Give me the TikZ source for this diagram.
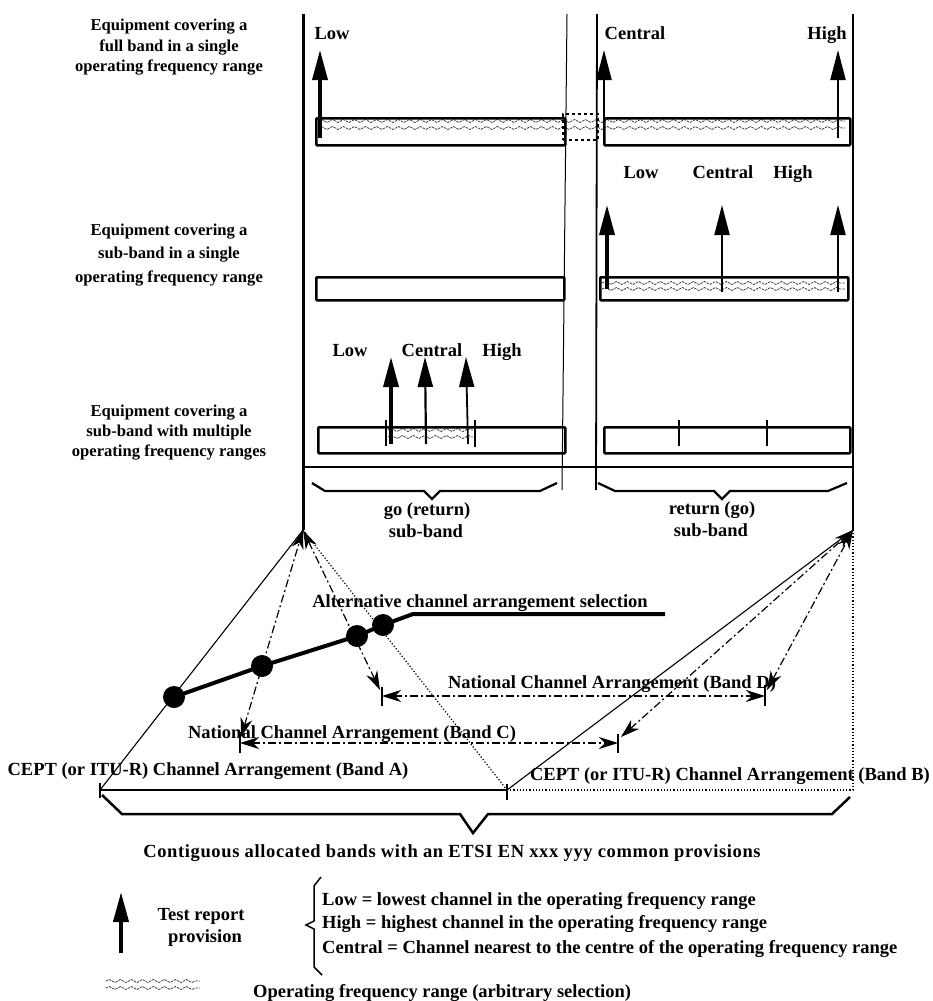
\documentclass[tikz,border=0pt]{standalone}
\usepackage{fontspec}
\setmainfont{Liberation Serif}
\usetikzlibrary{arrows.meta,decorations.pathmorphing}
\begin{document}
\begin{tikzpicture}[x=1pt,y=-1pt,
  lbl/.style={font=\bfseries\fontsize{16.6}{20}\selectfont, inner sep=0pt, anchor=base},
  sml/.style={font=\bfseries\fontsize{18.5}{22}\selectfont, inner sep=0pt, anchor=base},
  bar/.style={draw, line width=2.5pt, rounded corners=1pt},
  wave/.style={decorate, decoration={snake, amplitude=1.5pt, segment length=11pt}, draw=black!75, dash pattern=on 2.5pt off 1pt, line width=0.8pt},
  tarr/.style={-{Triangle[length=30pt,width=15pt]}},
  dashdot/.style={dash pattern=on 8pt off 3pt on 2pt off 3pt, line width=1.2pt},
  barb/.style={{Stealth[length=19pt,width=12pt,inset=6pt]}-{Stealth[length=19pt,width=12pt,inset=6pt]}},
  dot/.style={circle, fill=black, minimum size=22pt, inner sep=0pt},
  brace/.style={line width=2.2pt, line join=miter},
]
\useasboundingbox (0,0) rectangle (932,1001);

% ---------- wavy fills (operating frequency ranges)
\draw[wave] (318,121) -- (845,121);
\draw[wave] (318,128) -- (845,128);
\draw[wave] (602,283) -- (845,283);
\draw[wave] (602,289) -- (845,289);
\draw[wave] (388,430) -- (473,430);
\draw[wave] (388,437) -- (473,437);
\draw[wave] (106,981) -- (200,981);
\draw[wave] (106,988) -- (200,988);

% ---------- frame lines
\coordinate (LT) at (303,14);  \coordinate (LA) at (303,530);
\coordinate (RT) at (853,14);  \coordinate (RA) at (853,530);
\coordinate (M1T) at (567,14); \coordinate (M1B) at (562,490);
\coordinate (M2T) at (597,14); \coordinate (M2B) at (596,490);
\coordinate (HL) at (303,467); \coordinate (HR) at (853,467);
\draw[line width=3pt] (LT) -- (LA);
\draw[line width=2.5pt] (RT) -- (RA);
\draw[line width=1pt] (M1T) -- (M1B);
\draw[line width=1.8pt] (M2T) -- (M2B);
\draw[line width=1.5pt] (HL) -- (HR);

% ---------- row 1
\node[bar, minimum width=249pt, minimum height=27pt, anchor=north west] (r1a) at (315,117) {};
\node[bar, minimum width=246pt, minimum height=27pt, anchor=north west] (r1b) at (603,117) {};
\node[draw, dashed, line width=1.5pt, minimum width=35pt, minimum height=26pt, anchor=north west] (r1c) at (562,113) {};
\coordinate (a1l) at (320,138); \coordinate (a1lt) at (320,50);
\coordinate (a1c) at (604,141); \coordinate (a1ct) at (604,50);
\coordinate (a1h) at (838,138); \coordinate (a1ht) at (838,50);
\draw[tarr, line width=3.5pt] (a1l) -- (a1lt);
\draw[tarr, line width=2.2pt] (a1c) -- (a1ct);
\draw[tarr, line width=2.2pt] (a1h) -- (a1ht);
\node[sml] (t1l) at (332,39) {Low};
\node[sml] (t1c) at (635,39) {Central};
\node[sml] (t1h) at (827,39) {High};

% ---------- row 2
\node[bar, minimum width=248pt, minimum height=23pt, anchor=north west] (r2a) at (315,276) {};
\node[bar, minimum width=248pt, minimum height=23pt, anchor=north west] (r2b) at (599,276) {};
\coordinate (a2l) at (607,289); \coordinate (a2lt) at (607,205);
\coordinate (a2c) at (722,292); \coordinate (a2ct) at (722,205);
\coordinate (a2h) at (838,292); \coordinate (a2ht) at (838,205);
\draw[tarr, line width=3.5pt] (a2l) -- (a2lt);
\draw[tarr, line width=2pt] (a2c) -- (a2ct);
\draw[tarr, line width=2pt] (a2h) -- (a2ht);
\node[sml] (t2l) at (641,178) {Low};
\node[sml] (t2c) at (723,178) {Central};
\node[sml] (t2h) at (793,178) {High};

% ---------- row 3
\node[bar, minimum width=247pt, minimum height=26pt, anchor=north west] (r3a) at (317,426) {};
\node[bar, minimum width=246pt, minimum height=26pt, anchor=north west] (r3b) at (603,426) {};
\coordinate (k1t) at (386,420); \coordinate (k1b) at (386,446);
\coordinate (k2t) at (475,420); \coordinate (k2b) at (475,447);
\coordinate (k3t) at (679,420); \coordinate (k3b) at (679,446);
\coordinate (k4t) at (767,420); \coordinate (k4b) at (767,446);
\draw[line width=2.8pt] (k1t) -- (k1b);
\draw[line width=2.8pt] (k2t) -- (k2b);
\draw[line width=2.8pt] (k3t) -- (k3b);
\draw[line width=2.8pt] (k4t) -- (k4b);
\coordinate (a3l) at (391,444); \coordinate (a3lt) at (391,357);
\coordinate (a3c) at (426,444); \coordinate (a3ct) at (425,357);
\coordinate (a3h) at (468,444); \coordinate (a3ht) at (466,357);
\draw[tarr, line width=3.5pt] (a3l) -- (a3lt);
\draw[tarr, line width=2.2pt] (a3c) -- (a3ct);
\draw[tarr, line width=1.8pt] (a3h) -- (a3ht);
\node[sml] (t3l) at (350,356) {Low};
\node[sml] (t3c) at (432,356) {Central};
\node[sml] (t3h) at (502,356) {High};

% ---------- left labels
\node[lbl] (L1a) at (169,30) {Equipment covering a};
\node[lbl] (L1b) at (169,51) {full band in a single};
\node[lbl] (L1c) at (169,71) {operating frequency range};
\node[lbl] (L2a) at (169,235) {Equipment covering a};
\node[lbl] (L2b) at (169,258) {sub-band in a single};
\node[lbl] (L2c) at (169,282) {operating frequency range};
\node[lbl] (L3a) at (169,416) {Equipment covering a};
\node[lbl] (L3b) at (169,436) {sub-band with multiple};
\node[lbl] (L3c) at (169,456) {operating frequency ranges};

% ---------- sub-band braces
\draw[brace] (312,483) -- (325,491) -- (424,491) -- (432,499) -- (440,491) -- (540,491) -- (557,483);
\draw[brace] (598,483) -- (615,491) -- (714,491) -- (722,499) -- (730,491) -- (828,491) -- (847,483);
\node[sml] (go1) at (427,515) {go (return)};
\node[sml] (go2) at (426,537) {sub-band};
\node[sml] (rt1) at (712,514) {return (go)};
\node[sml] (rt2) at (711,536) {sub-band};

% ---------- bottom arrangement
\coordinate (A1) at (100,790);
\coordinate (AB) at (507,790);
\coordinate (B2) at (853,790);
\draw[line width=1.1pt] (LA) -- (A1);
\draw[line width=1.1pt] (RA) -- (AB);
\draw[line width=1.2pt, dotted] (LA) -- (AB);
\draw[line width=1.2pt, dotted] (RA) -- (B2) -- (AB);
\draw[line width=2.5pt] (A1) -- (AB);
\draw[line width=2pt] (100,783) -- (100,798);
\draw[line width=2pt] (507,784) -- (507,800);

% selection line and dots
\node[dot] (d1) at (174,697) {};
\node[dot] (d2) at (262,666) {};
\node[dot] (d3) at (357,636) {};
\node[dot] (d4) at (383,625) {};
\coordinate (s5) at (413,614);
\coordinate (s6) at (665,614);
\draw[line width=4pt] (d1.center) -- (d2.center) -- (d3.center) -- (d4.center) -- (s5) -- (s6);
\node[sml] (alt) at (480,607) {Alternative channel arrangement selection};

% national band ticks
\coordinate (cL) at (240,743); \coordinate (cR) at (618,743);
\coordinate (dL) at (382,696); \coordinate (dR) at (765,696);
\draw[line width=2pt] (240,732) -- (240,753);
\draw[line width=2pt] (618,734) -- (618,753);
\draw[line width=2pt] (382,687) -- (382,706);
\draw[line width=2pt] (765,685) -- (765,706);
\draw[dashdot, barb] (cL) -- (cR);
\draw[dashdot, barb] (dL) -- (dR);
\draw[dashdot, barb] (241,737) -- (LA);
\draw[dashdot, barb] (380,690) -- (LA);
\draw[dashdot, barb] (621,737) -- (RA);
\draw[dashdot, barb] (767,690) -- (RA);

\node[sml] (nD) at (612,688) {National Channel Arrangement (Band D)};
\node[sml] (nC) at (352,738) {National Channel Arrangement (Band C)};
\node[sml] (cA) at (208,775) {CEPT (or ITU-R) Channel Arrangement (Band A)};
\node[sml] (cB) at (730,780) {CEPT (or ITU-R) Channel Arrangement (Band B)};

% big brace
\draw[brace, line width=2.5pt] (102,795) -- (122,814) -- (460,814) -- (473,833) -- (488,814) -- (832,814) -- (850,797);
\node[sml, font=\bfseries\fontsize{18.5}{22}\selectfont\addfontfeature{LetterSpace=3.4}] (cont) at (452,857) {Contiguous allocated bands with an ETSI EN xxx yyy common provisions};

% ---------- legend
\coordinate (lgb) at (121,953); \coordinate (lgt) at (121,892);
\draw[tarr, line width=4pt] (lgb) -- (lgt);
\node[sml] (trp1) at (201,920) {Test report};
\node[sml] (trp2) at (205,942) {provision};
\draw[line width=1.5pt] (321,877) -- (314,886) -- (314,921) -- (306,925) -- (314,929) -- (314,967) -- (322,975);
\node[sml, anchor=base west] (lg1) at (322,905) {Low = lowest channel in the operating frequency range};
\node[sml, anchor=base west] (lg2) at (322,928) {High = highest channel in the operating frequency range};
\node[sml, anchor=base west] (lg3) at (322,953) {Central = Channel nearest to the centre of the operating frequency range};
\node[sml, anchor=base west] (lg4) at (253,997) {Operating frequency range (arbitrary selection)};
\end{tikzpicture}
\end{document}
